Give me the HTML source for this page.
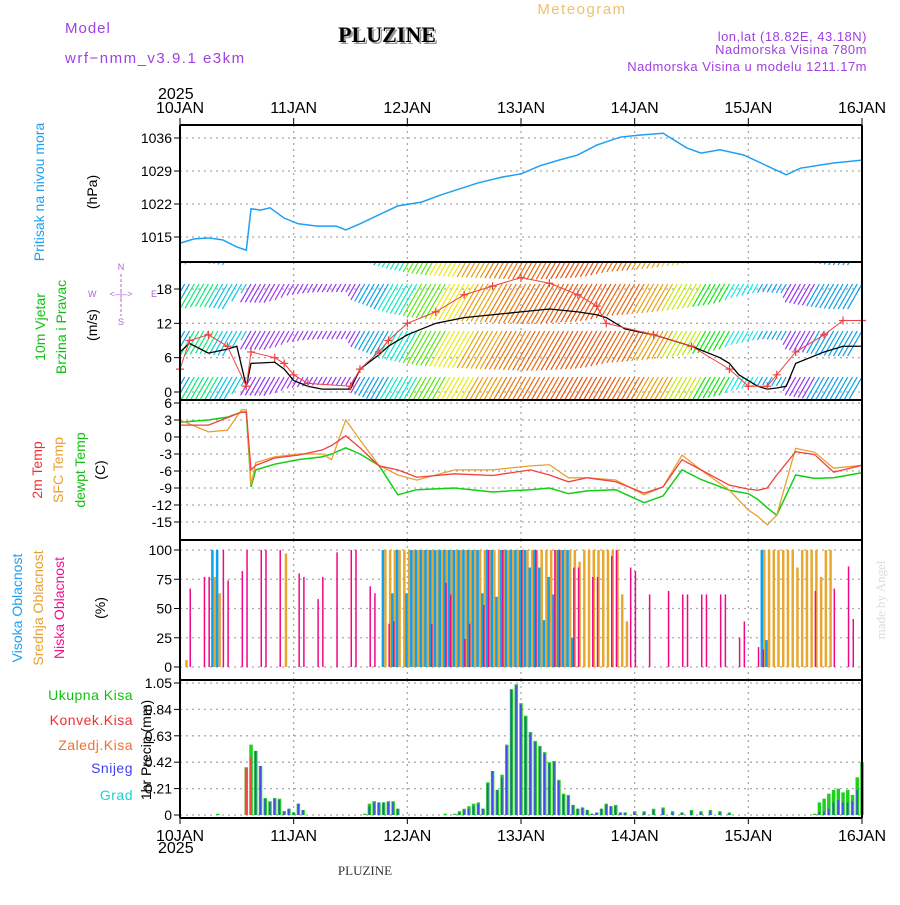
<!DOCTYPE html>
<html><head><meta charset="utf-8"><style>
body{margin:0;background:#fff;width:900px;height:900px;overflow:hidden}
svg{font-family:"Liberation Sans",sans-serif}
</style></head><body>
<svg id="c" width="900" height="900" viewBox="0 0 900 900" xmlns="http://www.w3.org/2000/svg">
<defs><clipPath id="wclip"><rect x="180" y="263" width="682" height="136"/></clipPath></defs>
<text x="65" y="33" fill="#a040e0" font-size="15" letter-spacing="1">Model</text>
<text x="65" y="63" fill="#a040e0" font-size="15" letter-spacing="1.5">wrf−nmm_v3.9.1 e3km</text>
<text x="389" y="44" fill="#999" font-size="22" font-weight="bold" style="font-family:'Liberation Serif',serif" text-anchor="middle">PLUZINE</text>
<text x="387" y="42" fill="#000" font-size="22" font-weight="bold" style="font-family:'Liberation Serif',serif" text-anchor="middle">PLUZINE</text>
<text x="582" y="14" fill="#f0c070" font-size="15" letter-spacing="1.5" text-anchor="middle">Meteogram</text>
<text x="867" y="41" fill="#a040e0" font-size="13" text-anchor="end" letter-spacing="0.5">lon,lat (18.82E, 43.18N)</text>
<text x="867" y="54" fill="#a040e0" font-size="13" text-anchor="end" letter-spacing="0.5">Nadmorska Visina 780m</text>
<text x="867" y="71" fill="#a040e0" font-size="13" text-anchor="end" letter-spacing="0.5">Nadmorska Visina u modelu 1211.17m</text>
<text x="158" y="99" font-size="16">2025</text>
<text x="158" y="853" font-size="16">2025</text>
<text x="365" y="875" font-size="13" style="font-family:'Liberation Serif',serif" text-anchor="middle" fill="#333">PLUZINE</text>
<text transform="translate(885,600) rotate(-90)" font-size="13" fill="#ddd" text-anchor="middle" style="font-family:'Liberation Serif',serif">made by Angel</text>

<text transform="translate(44,192) rotate(-90)" font-size="14" fill="#1ea0f0" text-anchor="middle">Pritisak na nivou mora</text>
<text transform="translate(97,192) rotate(-90)" font-size="14" text-anchor="middle">(hPa)</text>
<text transform="translate(45,327) rotate(-90)" font-size="14" fill="#10c010" text-anchor="middle">10m Vjetar</text>
<text transform="translate(66,327) rotate(-90)" font-size="14" fill="#10c010" text-anchor="middle">Brzina i Pravac</text>
<text transform="translate(97,325) rotate(-90)" font-size="14" text-anchor="middle">(m/s)</text>
<g fill="#b060e0" font-size="9">
<text x="121" y="270" text-anchor="middle">N</text><text x="121" y="325" text-anchor="middle">S</text>
<text x="88" y="297">W</text><text x="151" y="297">E</text>
<text x="121" y="297" text-anchor="middle">&lt;–|–&gt;</text>
<line x1="121" y1="274" x2="121" y2="316" stroke="#b060e0" stroke-dasharray="3,2"/>
</g>
<text transform="translate(42,470) rotate(-90)" font-size="14" fill="#f03030" text-anchor="middle">2m Temp</text>
<text transform="translate(63,470) rotate(-90)" font-size="14" fill="#e8a030" text-anchor="middle">SFC Temp</text>
<text transform="translate(85,470) rotate(-90)" font-size="14" fill="#10c010" text-anchor="middle">dewpt Temp</text>
<text transform="translate(105,470) rotate(-90)" font-size="14" text-anchor="middle">(C)</text>
<text transform="translate(22,608) rotate(-90)" font-size="14" fill="#1ea0f0" text-anchor="middle">Visoka Oblacnost</text>
<text transform="translate(43,608) rotate(-90)" font-size="14" fill="#e8a030" text-anchor="middle">Srednja Oblacnost</text>
<text transform="translate(64,608) rotate(-90)" font-size="14" fill="#f01090" text-anchor="middle">Niska Oblacnost</text>
<text transform="translate(105,608) rotate(-90)" font-size="14" text-anchor="middle">(%)</text>
<g font-size="14" text-anchor="end">
<text x="133" y="700" fill="#10c010" letter-spacing="0.5">Ukupna Kisa</text>
<text x="133" y="725" fill="#f03030" letter-spacing="0.5">Konvek.Kisa</text>
<text x="133" y="750" fill="#f07030" letter-spacing="0.5">Zaledj.Kisa</text>
<text x="133" y="773" fill="#4040f0" letter-spacing="0.5">Snijeg</text>
<text x="133" y="800" fill="#20d0d0" letter-spacing="0.5">Grad</text>
</g>
<text transform="translate(151,750) rotate(-90)" font-size="14" text-anchor="middle">1hr Precip (mm)</text>
<g id="g"></g>
</svg>
<script>
const days=["10JAN","11JAN","12JAN","13JAN","14JAN","15JAN","16JAN"];
const presH=[0,3,6,9,12,14,15,17,19,22,25,29,33,35,38,42,46,51,55,59,63,68,72,76,80,84,88,93,97,102,107,110,114,119,125,128,131,138,144];
const presV=[1013.7,1014.6,1014.8,1014.4,1012.9,1012.2,1021,1020.7,1021.2,1019,1017.8,1017.3,1017.3,1016.5,1017.8,1019.7,1021.6,1022.4,1023.9,1025.2,1026.5,1027.7,1028.4,1030.1,1031.3,1032.4,1034.5,1036.2,1036.6,1037,1033.9,1032.8,1033.5,1032.4,1029.6,1028.2,1029.6,1030.7,1031.3];
const presTicks=[1015,1022,1029,1036];
const tH=[0,6,10,13,14,15,16,20,25,30,32,35,38,42,46,50,58,66,74,78,82,86,92,98,102,106,110,116,120,122,124,126,130,134,138,144];
const t2m=[2.1,2.1,3.4,4.4,4.4,-5.8,-5,-3.7,-3.2,-2.3,-1.5,0.2,-1.9,-5.1,-5.8,-7.1,-6.5,-6.8,-5.8,-6.7,-7.9,-7.2,-7.9,-9.9,-8.8,-4,-5.8,-8.5,-9.2,-9.4,-9,-6.7,-2.6,-3.1,-6.2,-5];
const tsfc=[3,0.9,1.2,4.8,4.8,-8.5,-4.5,-3.5,-3,-3,-4,3,-0.5,-5,-6.7,-7.6,-5.8,-5.8,-5.1,-4.9,-7.2,-7.2,-7.6,-10.2,-8.8,-3.2,-5.8,-9.4,-12.9,-14,-15.5,-13.8,-2,-2.7,-5.5,-5];
const tdew=[2.6,3,3.5,4.4,4.4,-8.8,-5.8,-4.8,-4,-3.5,-3,-1.9,-3,-5,-10.2,-9.3,-9,-9.7,-9.3,-9,-10,-9.5,-9.3,-11.6,-10.4,-5.8,-7.5,-9.4,-10,-11,-12.5,-13.8,-6.7,-7.3,-7.2,-6.3];
const tempTicks=[-15,-12,-9,-6,-3,0,3,6];
const windH=[0,2,6,10,12,14,15,20,22,24,27,30,36,38,42,44,48,54,60,66,72,78,84,88,90,94,100,108,114,116,118,120,122,124,126,128,130,136,140,144];
const windSpd=[7,8.5,6.8,7.5,8,1,5,5.2,4,2,1,0.5,0.5,4,6.5,8,10,12,13,13.5,14,14.5,14,13.5,13,11,10,8,6,5,3,2,1,0.5,0.7,1,5,7,8,8];
const gustH=[0,2,6,10,14,15,20,22,24,27,36,38,42,44,48,54,60,66,72,78,84,88,90,100,108,116,120,124,126,130,136,140,144];
const gustV=[4,9,10,8,1,7,6,5,3,1.5,1,4,7,9,12,14,17,18.5,20,19,17,15,12,10,8,4,1,1,3,7,10,12.5,12.5];
const windDir=[200,150,190,270,275,270,270,200,170,100,60,40,30,25,20,20,25,40,70,120,180,200,270,200,200];
const windTicks=[0,6,12,18];
const lowH=[2,5,6,9,10,13,14,17,18,21,25,26,29,30,33,36,37,40,41,44,45,53,56,57,60,61,64,65,68,72,75,79,80,83,84,87,88,91,92,95,96,99,103,106,107,110,111,114,115,118,119,122,123,134,138,141,142];
const lowV=[67,77,77,100,74,82,100,100,100,100,80,77,58,77,98,100,100,69,63,37,39,37,72,62,24,37,53,100,100,100,100,100,100,85,85,77,77,95,100,85,82,62,65,62,62,62,62,62,62,25,39,17,15,65,67,86,41];
const midH=[1,7,8,22,43,44,45,46,47,48,49,50,51,52,53,54,55,56,57,58,59,60,61,62,63,64,65,66,67,68,69,70,71,72,73,74,75,76,77,78,79,80,81,82,83,84,85,86,87,88,89,90,91,92,93,94,123,124,125,126,127,128,129,130,131,132,133,134,135,136,137];
const midV=[6,77,63,97,100,100,100,100,100,100,100,100,100,100,100,100,100,100,100,100,100,100,100,100,100,100,100,100,100,100,100,100,100,100,100,100,100,100,100,100,100,100,100,100,100,90,100,100,100,100,100,100,100,100,62,39,100,100,100,100,100,100,100,85,100,100,100,100,77,100,100];
const highH=[7,8,43,45,46,48,49,50,51,52,53,54,55,56,57,58,59,60,61,62,63,64,65,66,67,68,69,70,71,72,73,74,75,76,77,78,79,80,81,82,83,123,124];
const highV=[100,100,100,63,100,63,100,100,100,100,100,100,100,100,100,100,100,100,100,100,100,63,100,100,60,100,100,100,100,100,100,85,100,85,40,77,62,100,100,100,25,100,23];
const precH=[8,14,15,16,17,18,19,20,21,22,23,24,25,26,39,40,41,42,43,44,45,46,56,58,59,60,61,62,63,64,65,66,67,68,69,70,71,72,73,74,75,76,77,78,79,80,81,82,83,84,85,86,87,88,89,90,91,92,93,94,96,98,100,102,104,106,108,110,112,114,116,134,135,136,137,138,139,140,141,142,143,144];
const precTot=[0.01,0.38,0.56,0.51,0.39,0.135,0.11,0.135,0.13,0.03,0.05,0.02,0.09,0.04,0.01,0.09,0.11,0.10,0.10,0.11,0.11,0.05,0.01,0.01,0.03,0.05,0.07,0.09,0.10,0.05,0.26,0.35,0.2,0.32,0.56,1.0,1.04,0.89,0.79,0.66,0.59,0.55,0.50,0.42,0.43,0.28,0.17,0.16,0.08,0.05,0.06,0.04,0.01,0.02,0.05,0.09,0.07,0.08,0.02,0.02,0.03,0.03,0.05,0.06,0.03,0.02,0.04,0.03,0.04,0.03,0.02,0.01,0.1,0.13,0.17,0.2,0.21,0.18,0.2,0.16,0.3,0.42];
const precSnow=[0,0,0.1,0.51,0.39,0.13,0.1,0.13,0.12,0.03,0.05,0.02,0.09,0.04,0,0.07,0.1,0.1,0.1,0.1,0.1,0.05,0,0,0.02,0.04,0.05,0.07,0.09,0.05,0.25,0.35,0.2,0.3,0.55,1.0,1.03,0.88,0.78,0.65,0.58,0.54,0.49,0.41,0.42,0.27,0.16,0.15,0.08,0.05,0.06,0.04,0.01,0.02,0.05,0.08,0.07,0.07,0.02,0.02,0.02,0.02,0.04,0.05,0.02,0.02,0.03,0.02,0.03,0.02,0.01,0,0.02,0.03,0.05,0.1,0.12,0.1,0.1,0.11,0.2,0.42];
const precConv=[0,0.37,0.46,0,0,0,0,0,0,0,0,0,0,0,0,0,0,0,0,0,0,0,0,0,0,0,0,0,0,0,0,0,0,0,0,0,0,0,0,0,0,0,0,0,0,0,0,0,0,0,0,0,0,0,0,0,0,0,0,0,0,0,0,0,0,0,0,0,0,0,0,0,0,0,0,0,0,0,0,0,0,0];
const precTicks=[0,0.21,0.42,0.63,0.84,1.05];
const cloudTicks=[0,25,50,75,100];

const NS="http://www.w3.org/2000/svg",G=document.getElementById('g');
const X0=180,X1=862;
const xs=h=>X0+h*(X1-X0)/144;
function lin(v1,y1,v2,y2){return v=>y1+(v-v1)*(y2-y1)/(v2-v1);}
const yP=lin(1036,138,1015,237),yW=lin(0,392,18,289),yT=lin(6,403,-15,522),yC=lin(100,550,0,667),yR=lin(1.05,683,0,815);
function el(tag,a,parent){const e=document.createElementNS(NS,tag);for(const k in a)e.setAttribute(k,a[k]);(parent||G).appendChild(e);return e;}
const panels=[[125,262,yP,presTicks,'pressure'],[262,400,yW,windTicks,'wind'],[400,540,yT,tempTicks,'temp'],[540,680,yC,cloudTicks,'cloud'],[680,818,yR,precTicks,'precip']];
panels.forEach(p=>{
  const[t,b,f,ticks,n]=p;
  for(let d=1;d<6;d++){const l=el('line',{x1:xs(d*24),x2:xs(d*24),y1:t,y2:b,stroke:'#aaa','stroke-dasharray':'2,4','stroke-width':1.3});
    }
  ticks.forEach(v=>{const y=f(v);
    const l=el('line',{x1:X0,x2:X1,y1:y,y2:y,stroke:'#aaa','stroke-dasharray':'2,4','stroke-width':1.3});
    
    el('line',{x1:X0-6,x2:X0,y1:y,y2:y,stroke:'#000'});
    const tx=el('text',{x:X0-8,y:y+5,'font-size':14,'text-anchor':'end'});tx.textContent=(n==='precip'&&v===0)?'0':String(v);
    });
});
function poly(H,V,f,col,name,w){const pts=H.map((h,i)=>xs(h)+','+f(V[i])).join(' ');
  const p=el('polyline',{points:pts,fill:'none',stroke:col,'stroke-width':w||1.3});
  return p;}
poly(presH,presV,yP,'#1ea0f0','pressure-line',1.5);
// wind barbs
const hue=d=>d;
const rows=[240,284,331,377];
const barbs=el('g',{'clip-path':'url(#wclip)'});

function interp(H,V,h){for(let i=1;i<H.length;i++)if(h<=H[i]){const r=(h-H[i-1])/(H[i]-H[i-1]);return V[i-1]+r*(V[i]-V[i-1]);}return V[V.length-1];}
for(let h=0;h<=144;h+=1){
  const d=windDir[Math.round(h/6)],s=interp(windH,windSpd,h);
  const col='hsl('+hue(d)+',90%,'+(d>240?58:48)+'%)';
  const len=8+s*2.6;
  rows.forEach(yt=>{
    const x=xs(h);
    el('line',{x1:x,y1:yt,x2:x-len*0.5,y2:yt+len*0.87,stroke:col,'stroke-width':1.2},barbs);
  });
}
poly(windH,windSpd,yW,'#000','wind-speed-line',1.3);
poly(gustH,gustV,yW,'#f04040','wind-gust-line',1);
gustH.forEach((h,i)=>{const x=xs(h),y=yW(gustV[i]);
  const p=el('path',{d:`M${x-4} ${y}H${x+4}M${x} ${y-4}V${y+4}`,stroke:'#f04040','stroke-width':1.2});
  });
poly(tH,tdew,yT,'#10d010','dewpoint-line',1.5);
poly(tH,tsfc,yT,'#e8a030','sfc-temp-line',1.3);
poly(tH,t2m,yT,'#f04040','t2m-line',1.3);
function bars(H,V,f,col,name,w,dx){H.forEach((h,i)=>{if(!V[i])return;const y=f(V[i]),y0=f(0);
  const r=el('rect',{x:xs(h)+dx,y:y,width:w,height:Math.max(y0-y,0.5),fill:col});
  });}
bars(midH,midV,yC,'#e8a830','mid-cloud-bar',2.5,0.5);
bars(highH,highV,yC,'#10a0f0','high-cloud-bar',2.5,-2);
bars(lowH,lowV,yC,'#f00888','low-cloud-bar',1.5,0);
bars(precH,precTot,yR,'#20d020','precip-total-bar',3.5,-1.75);
bars(precH,precSnow,yR,'#4848f0','precip-snow-bar',1.6,-1);
bars(precH,precConv,yR,'#f04848','precip-convective-bar',2.4,-1.5);
// frame
[125,262,400,540,680,818].forEach(y=>el('line',{x1:X0,x2:X1,y1:y,y2:y,stroke:'#000','stroke-width':2}));
el('line',{x1:X0,x2:X0,y1:125,y2:818,stroke:'#000','stroke-width':2});
el('line',{x1:X1,x2:X1,y1:125,y2:818,stroke:'#000','stroke-width':2});
days.forEach((d,i)=>{const x=xs(i*24);
  [108,836].forEach((y,j)=>{const t=el('text',{x:x,y:y+5,'font-size':16,'text-anchor':'middle'});t.textContent=d;
    });
  el('line',{x1:x,x2:x,y1:118,y2:125,stroke:'#000'});el('line',{x1:x,x2:x,y1:818,y2:824,stroke:'#000'});
});
</script>
</body></html>
